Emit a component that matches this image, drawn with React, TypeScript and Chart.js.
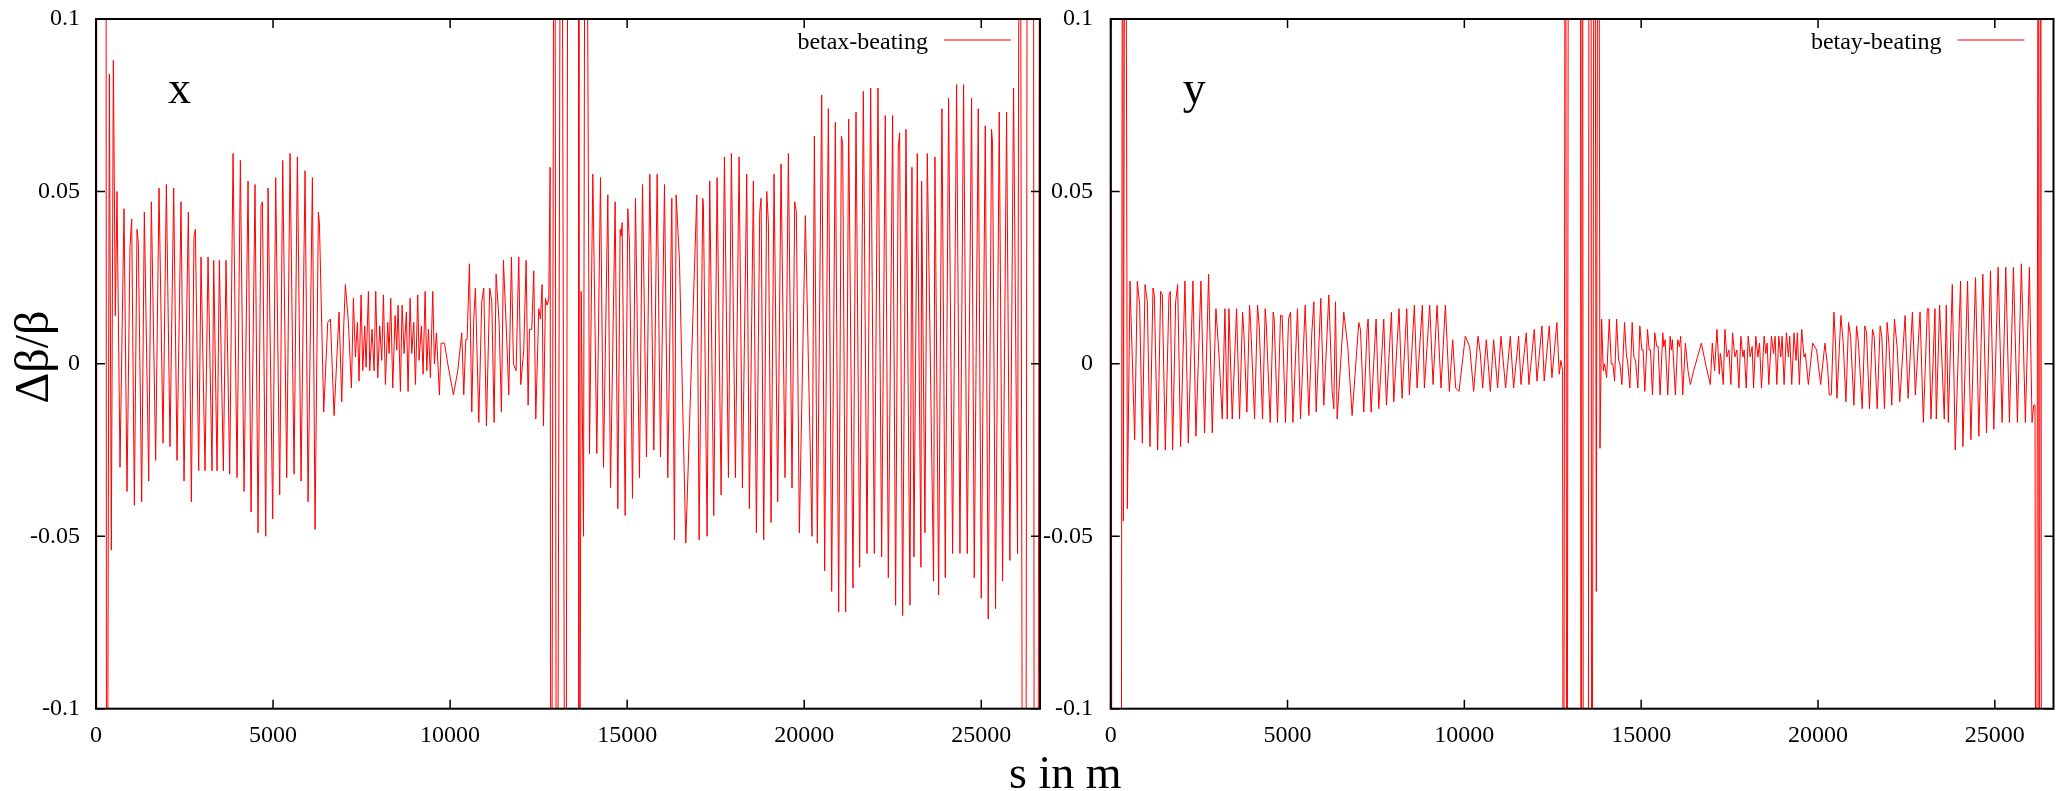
import React, { useEffect, useRef } from "react";
import { Chart, registerables } from "chart.js";
Chart.register(...registerables);

// ---------------- data ----------------
const X_MAX = 26659;
const xTicks = [0, 5000, 10000, 15000, 20000, 25000];
const yTicks = [-0.1, -0.05, 0, 0.05, 0.1];
const yTickLabels = ["-0.1", "-0.05", "0", "0.05", "0.1"];
const xAxisTitle = "s in m";
const yAxisTitle = "Δβ/β";
const panelLabels = ["x", "y"];
const legendLabels = ["betax-beating", "betay-beating"];

// [s (m), Δβ/β]
const betaxBeating: [number, number][] = [
  [0, -0.25], [20, 0.25], [280, 0.25], [300, -0.25], [377, 0.084], [433, -0.054], [490, 0.088], [546, 0.014],
  [593, 0.05], [678, -0.03], [791, 0.045], [876, -0.037], [960, 0.034], [1008, 0.042], [1083, -0.041],
  [1158, 0.039], [1196, 0.035], [1290, -0.04], [1365, 0.044], [1488, -0.034], [1563, 0.047], [1685, -0.028],
  [1780, 0.051], [1893, -0.023], [1987, 0.052], [2090, -0.024], [2194, 0.051], [2288, -0.028], [2401, 0.047],
  [2486, -0.034], [2608, 0.044], [2693, -0.04], [2768, 0.037], [2806, 0.039], [2900, -0.031], [2966, 0.031],
  [3079, -0.031], [3164, 0.031], [3277, -0.031], [3324, 0.03], [3418, -0.031], [3484, 0.03], [3597, -0.031],
  [3672, 0.03], [3776, -0.032], [3870, 0.061], [3983, -0.033], [4077, 0.059], [4181, -0.037], [4294, 0.053],
  [4378, -0.043], [4491, 0.052], [4576, -0.049], [4661, 0.046], [4699, 0.047], [4793, -0.05], [4859, 0.051],
  [4990, -0.045], [5075, 0.054], [5188, -0.038], [5273, 0.059], [5386, -0.033], [5480, 0.061], [5593, -0.032],
  [5687, 0.06], [5791, -0.034], [5904, 0.056], [5989, -0.04], [6111, 0.054], [6186, -0.048], [6280, 0.044],
  [6309, 0.041], [6431, -0.014], [6544, 0.012], [6620, 0.013], [6723, -0.015], [6864, 0.015], [6940, -0.011],
  [6996, 0.011], [7043, 0.023], [7128, 0.012], [7213, -0.007], [7269, 0.019], [7326, 0.002], [7382, 0.012],
  [7429, -0.005], [7486, 0.02], [7533, -0.002], [7589, 0.011], [7627, -0.001], [7693, 0.021], [7731, -0.002],
  [7796, 0.01], [7853, -0.002], [7900, 0.021], [7957, -0.004], [8013, 0.011], [8070, 0.001], [8117, 0.02],
  [8173, -0.006], [8239, 0.012], [8277, 0.003], [8324, 0.019], [8380, -0.007], [8446, 0.014], [8493, 0.004],
  [8531, 0.017], [8597, -0.008], [8644, 0.017], [8700, 0.003], [8766, 0.015], [8813, -0.008], [8870, 0.019],
  [8917, 0.003], [8973, 0.012], [9021, -0.006], [9086, 0.02], [9124, 0.001], [9190, 0.011], [9237, -0.003],
  [9294, 0.021], [9341, -0.002], [9388, 0.01], [9444, -0.004], [9510, 0.021], [9557, 0.0], [9614, 0.009],
  [9698, -0.009], [9746, 0.006], [9840, 0.006], [9934, 0.0], [10094, -0.009], [10216, -0.002], [10329, 0.009],
  [10386, -0.009], [10442, 0.007], [10480, 0.007], [10546, 0.029], [10612, -0.014], [10668, 0.013],
  [10715, 0.022], [10810, -0.017], [10894, 0.018], [10951, 0.022], [11026, -0.018], [11120, 0.022],
  [11177, 0.018], [11243, -0.017], [11299, 0.026], [11384, 0.012], [11450, -0.014], [11506, 0.03],
  [11601, 0.007], [11657, -0.009], [11732, 0.031], [11789, 0.0], [11864, -0.002], [11939, 0.031],
  [11996, -0.006], [12080, 0.004], [12147, 0.03], [12203, -0.012], [12241, 0.01], [12307, 0.01], [12363, 0.027],
  [12420, -0.016], [12504, 0.016], [12552, 0.013], [12599, 0.023], [12636, -0.018], [12693, 0.019],
  [12740, 0.017], [12787, 0.019], [12825, 0.057], [12850, -0.25], [12950, 0.25], [13010, -0.25], [13140, 0.25],
  [13260, -0.25], [13340, 0.25], [13620, 0.25], [13640, -0.25], [13702, 0.021], [13768, -0.05], [13824, 0.25],
  [13937, -0.026], [14031, 0.055], [14144, -0.026], [14247, 0.054], [14332, -0.03], [14454, 0.049],
  [14530, -0.036], [14661, 0.047], [14737, -0.042], [14802, 0.039], [14831, 0.037], [14859, 0.041],
  [14944, -0.044], [15019, 0.045], [15066, 0.035], [15151, -0.039], [15235, 0.048], [15348, -0.033],
  [15433, 0.052], [15546, -0.027], [15640, 0.055], [15753, -0.025], [15847, 0.055], [15941, -0.027],
  [16054, 0.052], [16148, -0.033], [16261, 0.048], [16336, -0.051], [16383, 0.049], [16477, 0.03],
  [16656, -0.052], [16966, 0.049], [17032, -0.051], [17135, 0.048], [17154, 0.046], [17258, -0.05],
  [17333, 0.053], [17446, -0.044], [17540, 0.054], [17653, -0.038], [17747, 0.06], [17860, -0.033],
  [17944, 0.061], [18057, -0.033], [18161, 0.06], [18255, -0.036], [18377, 0.055], [18452, -0.042],
  [18565, 0.053], [18650, -0.049], [18744, 0.044], [18782, 0.048], [18857, -0.051], [18942, 0.05],
  [18989, 0.041], [19064, -0.046], [19148, 0.055], [19252, -0.04], [19346, 0.058], [19459, -0.033],
  [19553, 0.061], [19656, -0.036], [19732, 0.047], [19779, 0.044], [19863, -0.049], [20033, 0.043],
  [20221, -0.05], [20287, 0.066], [20371, -0.052], [20494, 0.078], [20578, -0.06], [20682, 0.074],
  [20776, -0.066], [20879, 0.07], [20973, -0.072], [21049, 0.066], [21086, 0.064], [21171, -0.072],
  [21256, 0.071], [21378, -0.065], [21463, 0.073], [21566, -0.059], [21670, 0.079], [21773, -0.055],
  [21877, 0.08], [21980, -0.055], [22083, 0.08], [22187, -0.056], [22290, 0.072], [22375, -0.062],
  [22497, 0.072], [22582, -0.07], [22657, 0.063], [22695, 0.067], [22780, -0.073], [22874, 0.068],
  [22987, -0.07], [23043, 0.057], [23099, -0.056], [23194, 0.061], [23297, -0.059], [23316, 0.053],
  [23410, -0.049], [23476, 0.061], [23654, -0.063], [23692, 0.06], [23796, -0.067], [23890, 0.074],
  [23984, -0.062], [24078, 0.077], [24191, -0.055], [24304, 0.081], [24398, -0.055], [24501, 0.081],
  [24605, -0.055], [24727, 0.077], [24802, -0.062], [24915, 0.074], [25000, -0.068], [25113, 0.069],
  [25197, -0.074], [25291, 0.068], [25319, 0.064], [25404, -0.071], [25508, 0.073], [25602, -0.063],
  [25715, 0.073], [25809, -0.057], [25912, 0.08], [26025, -0.055], [26090, 0.25], [26180, -0.25],
  [26250, -0.25], [26310, 0.25], [26470, 0.25], [26500, -0.25], [26590, -0.25], [26659, 0.25],
];

const betayBeating: [number, number][] = [
  [0, 0.25], [40, -0.25], [290, -0.25], [339, 0.25], [358, -0.0455], [414, 0.25], [471, -0.042], [546, 0.024],
  [678, -0.022], [753, 0.024], [819, 0.017], [895, -0.023], [970, 0.023], [1036, 0.018], [1111, -0.024],
  [1196, 0.022], [1233, 0.02], [1328, -0.025], [1412, 0.021], [1459, 0.02], [1544, -0.025], [1648, 0.02],
  [1685, 0.021], [1751, -0.025], [1836, 0.018], [1893, 0.023], [1977, -0.024], [2100, 0.024], [2194, -0.023],
  [2326, 0.024], [2410, -0.021], [2552, 0.024], [2655, -0.02], [2768, 0.026], [2872, -0.02], [2975, 0.016],
  [3060, 0.003], [3154, -0.016], [3230, 0.016], [3296, -0.016], [3343, 0.016], [3437, -0.016], [3559, 0.016],
  [3644, -0.016], [3729, 0.015], [3766, 0.009], [3851, -0.014], [3926, 0.017], [3955, 0.012], [4068, -0.016],
  [4152, 0.017], [4200, 0.011], [4294, -0.016], [4369, 0.016], [4397, 0.012], [4510, -0.017], [4595, 0.015],
  [4623, 0.013], [4717, -0.017], [4802, 0.014], [4849, 0.014], [4943, -0.017], [5028, 0.013], [5085, 0.015],
  [5151, -0.017], [5282, 0.016], [5367, -0.016], [5499, 0.017], [5603, -0.015], [5687, 0.009], [5744, 0.018],
  [5810, -0.014], [5941, 0.019], [6026, -0.012], [6167, 0.02], [6262, -0.008], [6309, -0.013], [6356, 0.018],
  [6403, -0.016], [6591, 0.015], [6704, 0.005], [6827, -0.015], [7015, 0.012], [7062, 0.01], [7156, -0.014],
  [7250, 0.01], [7279, 0.013], [7363, -0.014], [7505, 0.013], [7580, -0.013], [7721, 0.013], [7796, -0.012],
  [7938, 0.015], [8004, -0.011], [8154, 0.016], [8239, -0.01], [8371, 0.016], [8446, -0.009], [8587, 0.017],
  [8663, -0.007], [8813, 0.017], [8870, -0.007], [9021, 0.017], [9115, -0.006], [9228, 0.017], [9341, -0.007],
  [9463, 0.017], [9576, -0.008], [9670, 0.007], [9755, -0.007], [9849, -0.008], [10028, 0.008], [10150, 0.005],
  [10263, -0.008], [10386, 0.008], [10452, 0.003], [10518, -0.007], [10621, 0.007], [10734, -0.008],
  [10828, 0.007], [10941, -0.007], [11036, 0.008], [11167, -0.007], [11299, 0.008], [11393, -0.007],
  [11535, 0.008], [11601, -0.006], [11751, 0.009], [11826, -0.006], [11978, 0.01], [12053, -0.005],
  [12194, 0.011], [12259, -0.005], [12401, 0.011], [12476, -0.004], [12617, 0.012], [12683, -0.003],
  [12730, 0.001], [12778, -0.002], [12800, -0.25], [12860, 0.25], [12900, -0.25], [12950, 0.25],
  [13280, 0.25], [13300, -0.25], [13340, 0.25], [13370, -0.25], [13500, -0.25], [13530, 0.25], [13580, 0.25],
  [13600, -0.25], [13680, 0.25], [13731, -0.066], [13790, 0.25], [13835, -0.0245], [13882, 0.013],
  [13929, -0.002], [13966, 0.0], [14023, -0.004], [14098, 0.013], [14154, 0.0], [14201, 0.0], [14248, -0.005],
  [14305, 0.013], [14361, 0.001], [14399, 0.0], [14455, -0.006], [14530, 0.012], [14586, 0.002],
  [14615, 0.001], [14680, -0.007], [14746, 0.012], [14793, 0.002], [14840, 0.001], [14906, -0.007],
  [14962, 0.011], [15019, 0.004], [15056, 0.004], [15103, -0.008], [15179, 0.01], [15226, 0.004],
  [15263, 0.004], [15320, -0.009], [15385, 0.009], [15442, 0.005], [15479, 0.005], [15536, -0.009],
  [15611, 0.009], [15639, 0.005], [15677, 0.007], [15752, -0.009], [15818, 0.008], [15855, 0.004],
  [15883, 0.007], [15968, -0.009], [16034, 0.007], [16081, 0.005], [16118, 0.008], [16175, -0.009],
  [16250, 0.006], [16325, -0.002], [16391, -0.006], [16485, -0.002], [16701, 0.006], [16842, -0.001],
  [16955, -0.006], [17011, 0.006], [17077, -0.002], [17143, 0.01], [17209, -0.003], [17237, 0.003],
  [17265, 0.001], [17321, -0.006], [17368, 0.01], [17425, 0.002], [17481, 0.004], [17537, -0.006],
  [17584, 0.009], [17650, 0.002], [17707, 0.004], [17763, -0.007], [17819, 0.008], [17876, 0.002],
  [17913, 0.004], [17970, -0.007], [18026, 0.008], [18083, 0.002], [18139, 0.005], [18177, -0.007],
  [18242, 0.008], [18299, 0.002], [18346, 0.006], [18402, -0.007], [18477, 0.008], [18524, 0.003],
  [18562, 0.006], [18609, -0.006], [18684, 0.008], [18740, 0.003], [18787, 0.008], [18834, -0.006],
  [18891, 0.008], [18947, 0.002], [18985, 0.008], [19041, -0.006], [19107, 0.009], [19163, 0.002],
  [19201, 0.008], [19257, -0.006], [19323, 0.009], [19379, 0.001], [19417, 0.009], [19473, -0.006],
  [19539, 0.01], [19605, 0.002], [19643, 0.003], [19727, -0.006], [19849, 0.006], [19962, 0.004],
  [20075, -0.006], [20197, 0.006], [20272, -0.001], [20319, -0.009], [20376, -0.009], [20451, 0.015],
  [20498, 0.005], [20535, -0.01], [20648, 0.014], [20714, 0.006], [20789, -0.011], [20864, 0.012],
  [20921, 0.008], [21015, -0.012], [21090, 0.011], [21137, 0.007], [21250, -0.013], [21325, 0.011],
  [21372, 0.009], [21456, -0.013], [21541, 0.01], [21588, 0.008], [21673, -0.013], [21757, 0.011],
  [21804, 0.008], [21879, -0.013], [21955, 0.012], [22011, 0.005], [22086, -0.012], [22161, 0.013],
  [22236, 0.005], [22312, -0.011], [22462, 0.014], [22547, -0.01], [22669, 0.015], [22753, -0.009],
  [22885, 0.015], [22979, -0.017], [23092, 0.016], [23129, 0.016], [23195, -0.016], [23308, 0.016],
  [23345, -0.016], [23439, 0.017], [23571, -0.016], [23627, 0.017], [23684, -0.017], [23797, 0.023],
  [23881, -0.025], [24031, 0.024], [24097, -0.024], [24229, 0.024], [24323, -0.022], [24454, 0.025],
  [24548, -0.021], [24661, 0.026], [24765, -0.02], [24877, 0.027], [24971, -0.019], [25093, 0.028],
  [25206, -0.017], [25310, 0.028], [25413, -0.017], [25526, 0.028], [25639, -0.017], [25751, 0.029],
  [25864, -0.017], [25977, 0.028], [26052, -0.017], [26099, -0.012], [26136, -0.012], [26170, -0.25],
  [26235, 0.25], [26250, -0.25], [26300, 0.25], [26320, -0.25], [26659, -0.25],
];

// ---------------- styling ----------------
const FONT = '"Liberation Serif", "Times New Roman", Times, serif';
const RED = "#ff0000";

type PanelCfg = {
  series: [number, number][];
  panelLabel: string;
  legendLabel: string;
  yAxisWidth: number;
  tickPadY: number;
  padRight: number;
  drawYTitle: boolean;
  drawXTitleAt: number | null;
};

function makeChart(canvas: HTMLCanvasElement, cfg: PanelCfg) {
  const deco = {
    id: "gnuplotDeco",
    afterDatasetsDraw(chart: any) {
      const { ctx, chartArea: a, scales } = chart;
      ctx.save();
      // ticks (inward, mirrored)
      ctx.strokeStyle = "#000";
      ctx.lineWidth = 1.5;
      ctx.beginPath();
      const tl = 9;
      for (const v of xTicks) {
        const px = scales.x.getPixelForValue(v);
        ctx.moveTo(px, a.bottom);
        ctx.lineTo(px, a.bottom - tl);
        ctx.moveTo(px, a.top);
        ctx.lineTo(px, a.top + tl);
      }
      for (const v of yTicks) {
        const py = scales.y.getPixelForValue(v);
        ctx.moveTo(a.left, py);
        ctx.lineTo(a.left + tl, py);
        ctx.moveTo(a.right, py);
        ctx.lineTo(a.right - tl, py);
      }
      ctx.stroke();
      // frame
      ctx.lineWidth = 2;
      ctx.strokeRect(a.left, a.top, a.right - a.left, a.bottom - a.top);

      // legend
      ctx.fillStyle = "#000";
      ctx.font = `24px ${FONT}`;
      ctx.textAlign = "right";
      ctx.textBaseline = "alphabetic";
      ctx.fillText(cfg.legendLabel, a.right - 112, a.top + 30);
      ctx.strokeStyle = RED;
      ctx.lineWidth = 1.2;
      ctx.beginPath();
      ctx.moveTo(a.right - 96, a.top + 21);
      ctx.lineTo(a.right - 29, a.top + 21);
      ctx.stroke();

      // panel label
      ctx.fillStyle = "#000";
      ctx.font = `46px ${FONT}`;
      ctx.textAlign = "left";
      ctx.fillText(cfg.panelLabel, a.left + 72, a.top + 84);

      // axis titles
      if (cfg.drawYTitle) {
        ctx.save();
        ctx.translate(48, 357);
        ctx.rotate(-Math.PI / 2);
        ctx.font = `48px ${FONT}`;
        ctx.textAlign = "center";
        ctx.textBaseline = "alphabetic";
        ctx.fillText(yAxisTitle, 0, 0);
        ctx.restore();
      }
      if (cfg.drawXTitleAt !== null) {
        ctx.font = `46px ${FONT}`;
        ctx.textAlign = "left";
        ctx.textBaseline = "alphabetic";
        ctx.fillText(xAxisTitle, cfg.drawXTitleAt, 788);
      }
      ctx.restore();
    },
  };

  return new Chart(canvas, {
    type: "line",
    data: {
      datasets: [
        {
          label: cfg.legendLabel,
          data: cfg.series.map(([x, y]) => ({ x, y })),
          borderColor: RED,
          borderWidth: 1,
          pointRadius: 0,
          tension: 0,
          fill: false,
        },
      ],
    },
    options: {
      responsive: false,
      animation: false,
      events: [],
      layout: { padding: { top: 19, right: cfg.padRight, left: 0, bottom: 0 } },
      plugins: { legend: { display: false }, tooltip: { enabled: false } },
      scales: {
        x: {
          type: "linear",
          min: 0,
          max: X_MAX,
          afterBuildTicks: (s: any) => {
            s.ticks = xTicks.map((v) => ({ value: v }));
          },
          afterFit: (s: any) => {
            s.height = 82.3;
            s.paddingLeft = 0;
            s.paddingRight = 0;
          },
          grid: { display: false, drawTicks: false },
          border: { display: false },
          ticks: {
            color: "#000",
            font: { family: FONT, size: 24 },
            padding: 13,
            maxRotation: 0,
            minRotation: 0,
            autoSkip: false,
            callback: (v: any) => String(v),
          },
        },
        y: {
          type: "linear",
          min: -0.1,
          max: 0.1,
          afterBuildTicks: (s: any) => {
            s.ticks = yTicks.map((v) => ({ value: v }));
          },
          afterFit: (s: any) => {
            s.width = cfg.yAxisWidth;
            s.paddingTop = 0;
            s.paddingBottom = 0;
          },
          grid: { display: false, drawTicks: false },
          border: { display: false },
          ticks: {
            color: "#000",
            font: { family: FONT, size: 24 },
            padding: cfg.tickPadY,
            autoSkip: false,
            callback: (v: any) => {
              const i = yTicks.findIndex((t) => Math.abs(t - v) < 1e-9);
              return i >= 0 ? yTickLabels[i] : "";
            },
          },
        },
      },
    },
    plugins: [deco],
  } as any);
}

export default function App() {
  const leftRef = useRef<HTMLCanvasElement>(null);
  const rightRef = useRef<HTMLCanvasElement>(null);

  useEffect(() => {
    const c1 = makeChart(leftRef.current!, {
      series: betaxBeating,
      panelLabel: panelLabels[0],
      legendLabel: legendLabels[0],
      yAxisWidth: 96,
      tickPadY: 16,
      padRight: 5,
      drawYTitle: true,
      drawXTitleAt: null,
    });
    const c2 = makeChart(rightRef.current!, {
      series: betayBeating,
      panelLabel: panelLabels[1],
      legendLabel: legendLabels[1],
      yAxisWidth: 110.7,
      tickPadY: 17.7,
      padRight: 3.5,
      drawYTitle: false,
      drawXTitleAt: 9,
    });
    return () => {
      c1.destroy();
      c2.destroy();
    };
  }, []);

  return (
    <div
      style={{
        position: "fixed",
        left: 0,
        top: 0,
        width: 2057,
        height: 791,
        background: "#fff",
        overflow: "hidden",
      }}
    >
      <canvas
        ref={leftRef}
        width={1045}
        height={791}
        style={{ position: "absolute", left: 0, top: 0 }}
      />
      <canvas
        ref={rightRef}
        width={1057}
        height={791}
        style={{ position: "absolute", left: 1000, top: 0 }}
      />
    </div>
  );
}
